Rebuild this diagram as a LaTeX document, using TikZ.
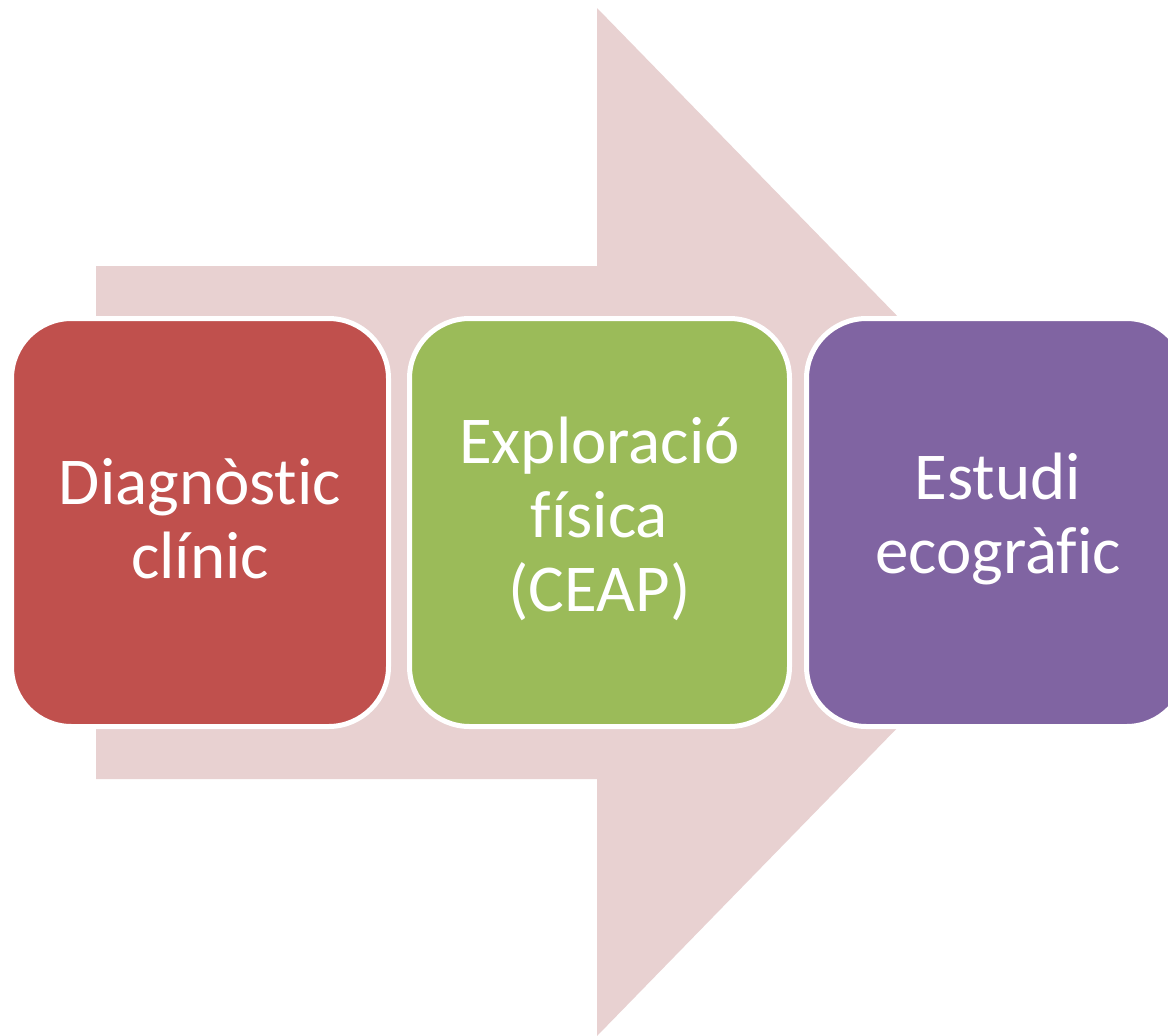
\documentclass[tikz,border=0pt]{standalone}
\usepackage{fontspec}
\setmainfont{Carlito}[Ligatures=NoCommon]
\definecolor{arrowpink}{HTML}{E8D1D1}
\definecolor{boxred}{HTML}{C0504D}
\definecolor{boxgreen}{HTML}{9BBB59}
\definecolor{boxpurple}{HTML}{8064A2}
\tikzset{
  stepbox/.style={draw=white, line width=5pt, rounded corners=60pt},
  steptext/.style={text=white, align=center, font=\fontsize{67}{74}\selectfont}
}
\begin{document}
\begin{tikzpicture}[x=1pt,y=-1pt]
\useasboundingbox (0,0) rectangle (1168,1036);
\clip (0,0) rectangle (1168,1036);
\fill[white] (0,0) rectangle (1168,1036);
% big arrow
\fill[arrowpink] (96,266) -- (597,266) -- (597,8) -- (1098,522) -- (597,1036) -- (597,779) -- (96,779) -- cycle;
% boxes
\draw[stepbox, fill=boxred] (11.5,318.5) rectangle (388.5,726.5);
\draw[stepbox, fill=boxgreen] (409.5,318.5) rectangle (789.5,726.5);
\draw[stepbox, fill=boxpurple] (806.5,318.5) rectangle (1186.5,726.5);
\node[steptext] (t1) at (200,519) {Diagnòstic\\clínic};
\node[steptext] (t2) at (599.5,519) {Exploració\\física\\(CEAP)};
\node[steptext] (t3) at (998,519) {Estudi\\ecogràfic};
\end{tikzpicture}
\end{document}
